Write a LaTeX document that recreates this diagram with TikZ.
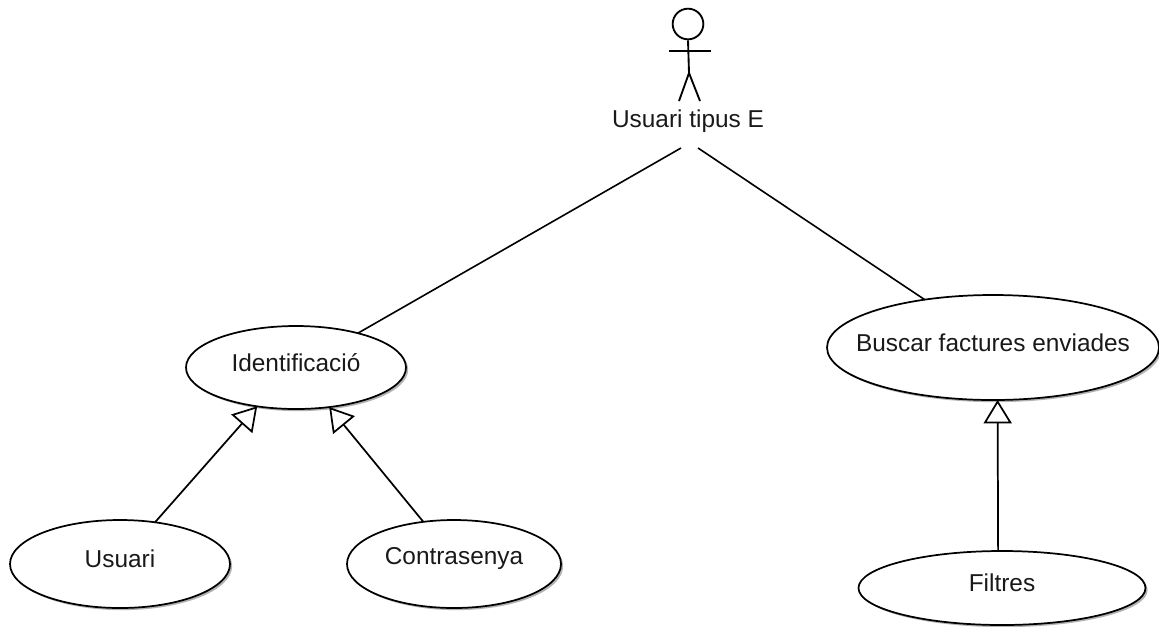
\documentclass[tikz,border=0pt]{standalone}
\usepackage{fontspec}
\setmainfont{Liberation Sans}
\usetikzlibrary{shapes.geometric,arrows.meta,shadows}
\tikzset{
  ucase/.style n args={3}{ellipse,draw=black,fill=white,line width=1.3pt,inner sep=0pt,outer sep=0pt,
    minimum width=#2*0.75pt,minimum height=#3*0.75pt,
    drop shadow={shadow xshift=1.6pt,shadow yshift=-1.6pt,opacity=0.3,fill=black},
    label={[txt,yshift=3.8pt]center:#1}},
  txt/.style={font=\fontsize{18.3pt}{22pt}\selectfont,text=black!90,inner sep=0pt},
  assoc/.style={line width=1.2pt,black},
  gener/.style={line width=1.3pt,black,-{Triangle[open,fill=white,length=17.5pt,width=21pt,line width=1.3pt]}},
  stick/.style={line width=1.4pt,black}
}
\begin{document}
\begin{tikzpicture}[x=0.75pt,y=-0.75pt]
\useasboundingbox (0,0) rectangle (1159,626);
\node[ucase={Identificació}{220}{83}] (id) at (296,367.5) {};
\node[ucase={Buscar factures enviades}{332}{105}] (bf) at (993,347.5) {};
\node[ucase={Usuari}{220}{88}] (us) at (120,564) {};
\node[ucase={Contrasenya}{214}{88}] (co) at (454,564) {};
\node[ucase={Filtres}{287}{74}] (fi) at (1002,588) {};
% actor
\node[circle,draw=black,line width=1.4pt,inner sep=0pt,minimum size=23pt] (head) at (688,24) {};
\coordinate (hip) at (689,73);
\coordinate (armL) at (669,51);
\coordinate (armR) at (711,51);
\coordinate (footL) at (679,101);
\coordinate (footR) at (700,101);
\draw[stick] (head.south) -- (hip);
\draw[stick] (armL) -- (armR);
\draw[stick] (footL) -- (hip) -- (footR);
\node[txt] (actor) at (688,121.5) {Usuari tipus E};
% connectors
\coordinate (a1) at (681,148);
\coordinate (a2) at (698,148);
\draw[assoc] (a1) -- (id.29.5);
\draw[assoc] (a2) -- (bf.145.9);
\draw[gener] (us.50.2) -- (id.225.4);
\draw[gener] (co.126.4) -- (id.310.6);
\draw[gener] (fi.96.2) -- (bf.275.4);
\end{tikzpicture}
\end{document}
